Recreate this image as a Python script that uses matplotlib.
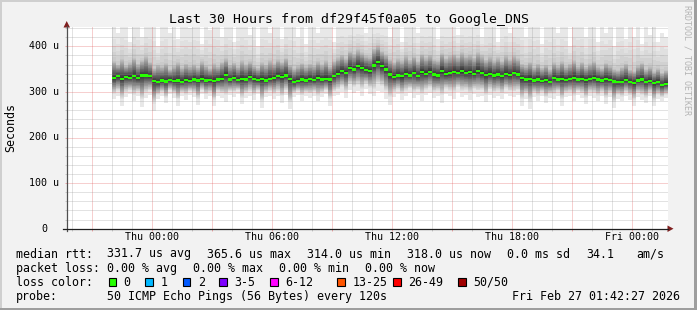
import numpy as np
import matplotlib.pyplot as plt
from matplotlib.patches import Rectangle, Polygon
from matplotlib.lines import Line2D

# данные (время в часах от Thu 00:00, значения в микросекундах)
t_start = -2.0
t_step = 0.2

median_us = [
    330, 334, 329, 333, 331, 335, 330, 336, 336, 334,
    324, 321, 325, 323, 326, 324, 325, 322, 326, 324,
    327, 325, 328, 325, 326, 324, 327, 329, 337, 327,
    331, 326, 328, 327, 333, 329, 326, 328, 325, 329,
    331, 335, 333, 336, 328, 321, 324, 327, 325, 328,
    326, 331, 327, 329, 327, 334, 340, 345, 342, 352,
    349, 356, 353, 348, 346, 358, 365, 356, 349, 338,
    333, 336, 334, 339, 336, 341, 335, 343, 340, 344,
    338, 336, 346, 339, 341, 344, 342, 345, 341, 343,
    340, 346, 341, 337, 340, 336, 338, 335, 339, 337,
    341, 338, 330, 327, 329, 325, 327, 324, 326, 322,
    330, 327, 329, 326, 328, 331, 327, 329, 326, 328,
    330, 327, 325, 328, 326, 323, 321, 322, 326, 322,
    320, 325, 327, 322, 324, 319, 321, 315, 318,
]

# верхняя граница "тела" дыма (примерно 90-й процентиль)
ping_p90_us = [
    368, 360, 372, 358, 365, 375, 362, 370, 378, 366,
    352, 360, 356, 364, 350, 358, 366, 354, 362, 357,
    361, 355, 368, 359, 352, 363, 357, 366, 374, 360,
    364, 356, 370, 361, 367, 358, 353, 365, 360, 369,
    363, 372, 366, 375, 360, 352, 358, 364, 356, 362,
    359, 367, 361, 370, 357, 368, 376, 382, 374, 390,
    384, 393, 387, 380, 378, 395, 402, 390, 383, 372,
    366, 374, 369, 380, 371, 379, 368, 384, 376, 382,
    372, 370, 386, 375, 380, 384, 377, 388, 379, 383,
    375, 387, 380, 371, 378, 369, 376, 368, 381, 372,
    380, 374, 362, 358, 366, 355, 362, 353, 360, 350,
    365, 358, 368, 356, 362, 370, 357, 366, 355, 363,
    368, 356, 352, 364, 358, 350, 348, 355, 362, 349,
    346, 358, 364, 350, 356, 345, 352, 342, 348,
]

ping_min_us = [
    285, 292, 270, 288, 295, 280, 290, 266, 286, 293,
    258, 284, 290, 275, 296, 287, 270, 291, 283, 294,
    288, 272, 295, 285, 290, 268, 292, 286, 278, 293,
    289, 296, 274, 287, 291, 282, 295, 265, 288, 292,
    284, 290, 276, 293, 262, 289, 294, 281, 290, 286,
    292, 279, 288, 295, 270, 290, 294, 300, 287, 305,
    298, 302, 292, 307, 296, 290, 303, 299, 285, 272,
    288, 295, 283, 291, 298, 286, 294, 280, 293, 297,
    287, 292, 275, 296, 290, 285, 299, 288, 293, 282,
    295, 289, 292, 278, 294, 287, 291, 284, 296, 290,
    288, 293, 270, 285, 262, 289, 280, 291, 276, 287,
    284, 292, 269, 288, 290, 279, 293, 286, 274, 290,
    287, 280, 291, 273, 288, 264, 285, 279, 290, 283,
    270, 288, 282, 276, 290, 268, 285, 279, 286,
]

ping_max_us = [
    445, 430, 445, 445, 410, 445, 445, 420, 445, 445,
    445, 400, 445, 445, 430, 445, 415, 445, 445, 440,
    445, 445, 405, 445, 435, 445, 445, 420, 445, 445,
    410, 445, 445, 445, 425, 445, 400, 445, 445, 430,
    445, 445, 415, 445, 445, 445, 420, 445, 405, 445,
    445, 430, 445, 445, 445, 410, 445, 445, 445, 445,
    445, 445, 445, 430, 445, 445, 445, 445, 445, 420,
    445, 445, 410, 445, 445, 445, 430, 445, 445, 445,
    445, 415, 445, 445, 445, 445, 425, 445, 445, 445,
    445, 445, 420, 445, 445, 445, 410, 445, 445, 430,
    445, 445, 445, 420, 445, 445, 445, 405, 445, 445,
    445, 430, 445, 445, 400, 445, 445, 445, 420, 445,
    445, 410, 445, 430, 445, 400, 445, 445, 415, 445,
    420, 445, 405, 445, 425, 445, 410, 430, 420,
]

x_label_hours = [0, 6, 12, 18, 24]
x_labels = ['Thu 00:00', 'Thu 06:00', 'Thu 12:00', 'Thu 18:00', 'Fri 00:00']
y_label_values = [0, 100, 200, 300, 400]
y_labels = ['0', '100 u', '200 u', '300 u', '400 u']

loss_labels = ['0', '1', '2', '3-5', '6-12', '13-25', '26-49', '50/50']
loss_colors = ['#26ff00', '#00b8ff', '#0059ff', '#7e00ff', '#ff00ff', '#ff5500', '#ff0000', '#a10000']

rtt_stats = ['331.7 us avg', '365.6 us max', '314.0 us min', '318.0 us now', '0.0 ms sd']
rtt_am = '34.1'
loss_stats = ['0.00 % avg', '0.00 % max', '0.00 % min', '0.00 % now']

# рисунок в пикселях
W, H = 697, 310
def fx(x): return x / W
def fy(y): return 1 - y / H

plt.rcParams['font.family'] = 'DejaVu Sans Mono'
fig = plt.figure(figsize=(W / 100, H / 100), dpi=100)
fig.patch.set_facecolor('#f2f2f2')

# рамка
fig.add_artist(Rectangle((0, fy(2)), 1, 2 / H, transform=fig.transFigure, color='#cfcfcf', lw=0))
fig.add_artist(Rectangle((0, 0), 2 / W, 1, transform=fig.transFigure, color='#cfcfcf', lw=0))
fig.add_artist(Rectangle((0, 0), 1, 2.5 / H, transform=fig.transFigure, color='#9e9e9e', lw=0))
fig.add_artist(Rectangle((fx(694), 0), 3 / W, 1, transform=fig.transFigure, color='#9e9e9e', lw=0))

left, right, top, bottom = 66.7, 667.5, 27.3, 228.7
ax = fig.add_axes([fx(left), fy(bottom), (right - left) / W, (bottom - top) / H])
ax.set_facecolor('white')
t_left = -4.25
t_right = t_left + (right - left) / 20
ax.set_xlim(t_left, t_right)
ax.set_ylim(0, (bottom - top) / 0.456)
for s in ax.spines.values():
    s.set_visible(False)

# дым: пары отсортированных пингов, от внешней (светлой) к внутренней (тёмной)
med = np.array(median_us, float)
p90 = np.array(ping_p90_us, float)
lo = np.array(ping_min_us, float)
hi = np.array(ping_max_us, float)
t_edges = t_start + t_step * np.arange(len(med) + 1)
ext = lambda a: np.append(a, a[-1])
half = 25
for ibot in range(1, half + 1):
    d = (half + 1 - ibot) / half
    if ibot == 1:
        upper, lower = hi, lo
    else:
        if d <= 0.8:
            upper = med + (p90 - med) * (d / 0.8)
        else:
            upper = p90 + (hi - p90) * 0.85 * ((d - 0.8) / 0.2) ** 1.3
        upper = np.minimum(upper, hi)
        lower = med - (med - lo) * 0.75 * (d / 0.96) ** 1.1
    g = int(190 / half * (half - ibot)) + 50
    ax.fill_between(t_edges, ext(lower), ext(upper), step='post',
                    color=f'#{g:02x}{g:02x}{g:02x}', lw=0, zorder=1)

# медиана
ax.fill_between(t_edges, ext(med - 2.4), ext(med + 2.4), step='post',
                color='#26ff00', lw=0, zorder=3)

# сетка
ax.set_xticks(np.arange(-3, 26, 3))
ax.set_xticks(np.arange(-4, 26, 1), minor=True)
ax.set_yticks(np.arange(0, 441, 100))
ax.set_yticks(np.arange(0, 441, 20), minor=True)
ax.set_axisbelow(False)
ax.grid(which='minor', color='#8f8f8f', alpha=0.25, lw=0.72)
ax.grid(which='major', color='#de4f4f', alpha=0.27, lw=0.72)
ax.tick_params(which='both', labelbottom=False, labelleft=False, length=1.5, width=0.72)
ax.tick_params(which='major', colors='#eea7a7')
ax.tick_params(which='minor', colors='#c9c9c9')

# подписи осей
for h, lab in zip(x_label_hours, x_labels):
    ax.text(h, -8.6 / (bottom - top), lab, transform=ax.get_xaxis_transform(),
            ha='center', va='center', fontsize=7.2)
for v, lab in zip(y_label_values, y_labels):
    xr = 59.3 if lab != '0' else 47.3
    ax.text((xr - left) / (right - left), v, lab, transform=ax.get_yaxis_transform(),
            ha='right', va='center', fontsize=7.2)

# оси и стрелки
arrow_c = '#801f1f'
fig.add_artist(Line2D([fx(left), fx(left)], [fy(230.7), fy(26)], transform=fig.transFigure,
                      color='#505050', lw=0.9))
fig.add_artist(Line2D([fx(62.7), fx(668)], [fy(bottom), fy(bottom)], transform=fig.transFigure,
                      color='#1f1f1f', lw=0.9))
fig.add_artist(Polygon([[fx(left), fy(21)], [fx(63.5), fy(27.5)], [fx(70), fy(27.5)]],
                       transform=fig.transFigure, color=arrow_c, lw=0))
fig.add_artist(Polygon([[fx(673.5), fy(bottom)], [fx(667.5), fy(225.5)], [fx(667.5), fy(232)]],
                       transform=fig.transFigure, color=arrow_c, lw=0))

# заголовок и прочий текст
fig.text(fx(349), fy(19), 'Last 30 Hours from df29f45f0a05 to Google_DNS',
         ha='center', va='center', fontsize=9.5)
fig.text(fx(10.8), fy(127.5), 'Seconds', rotation=90, ha='center', va='center', fontsize=8.4)
fig.text(fx(687.5), fy(60), 'RRDTOOL / TOBI OETIKER', rotation=-90, ha='center', va='center',
         fontsize=6, color='#b4b4b4')

# легенда
fs = 8.4
y1, y2, y3, y4 = 254, 268.7, 282, 296.7
fig.text(fx(16), fy(y1), 'median rtt:', va='center', fontsize=fs)
for x, s in zip([107.3, 207.3, 307.3, 407.3, 507.3], rtt_stats):
    fig.text(fx(x), fy(y1), s, va='center', fontsize=fs)
fig.text(fx(586.7), fy(y1), rtt_am, va='center', fontsize=fs)
fig.text(fx(636), fy(y1), 'am/s', va='center', fontsize=fs)

fig.text(fx(16), fy(y2), 'packet loss:', va='center', fontsize=fs)
for x, s in zip([107.3, 193.3, 279.3, 365], loss_stats):
    fig.text(fx(x), fy(y2), s, va='center', fontsize=fs)

fig.text(fx(16), fy(y3), 'loss color:', va='center', fontsize=fs)
box_x = [108.7, 145.3, 182.7, 219.3, 270, 337.3, 393.3, 458.3]
for x, lab, c in zip(box_x, loss_labels, loss_colors):
    fig.add_artist(Rectangle((fx(x), fy(y3 + 4)), 7.5 / W, 8 / H, transform=fig.transFigure,
                             facecolor=c, edgecolor='black', lw=0.8))
    fig.text(fx(x + 15), fy(y3), lab, va='center', fontsize=fs)

fig.text(fx(16), fy(y4), 'probe:', va='center', fontsize=fs)
fig.text(fx(107.3), fy(y4), '50 ICMP Echo Pings (56 Bytes) every 120s', va='center', fontsize=fs)
fig.text(fx(680), fy(y4), 'Fri Feb 27 01:42:27 2026', ha='right', va='center', fontsize=fs)

fig.savefig('out.png', dpi=100, facecolor=fig.get_facecolor())
